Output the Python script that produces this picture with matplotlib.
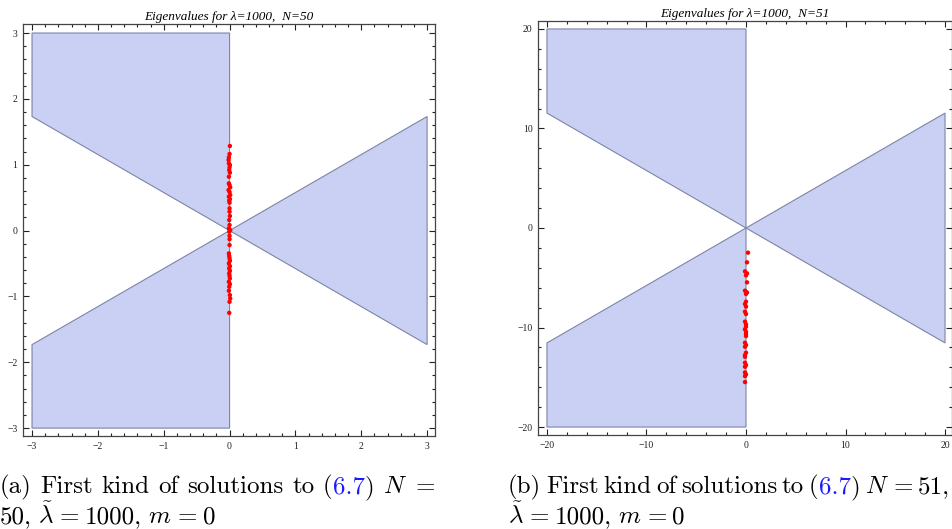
import numpy as np
import matplotlib
matplotlib.use("Agg")
import matplotlib.pyplot as plt
from matplotlib.patches import Polygon
from matplotlib.ticker import MultipleLocator

plt.rcParams['mathtext.fontset'] = 'cm'

# ---- data ----
# panel (a): N=50, region scale 3
scale_a = 3.0
eig_a_im = [1.284, 1.163, 1.112, 1.072, 1.021, 0.995, 0.960, 0.919, 0.879, 0.818,
            0.717, 0.691, 0.656, 0.615, 0.585, 0.540, 0.515, 0.479, 0.454, 0.423,
            0.337, 0.286, 0.221, 0.160, 0.084, 0.033, 0.008, -0.017, -0.08, -0.13,
            -0.220, -0.347, -0.388, -0.423, -0.459, -0.499, -0.540, -0.575, -0.611,
            -0.651, -0.686, -0.727, -0.778, -0.813, -0.854, -0.914, -0.980, -1.031,
            -1.082, -1.25]
eig_a_re = [0.005, 0.0, -0.01, -0.015, -0.01, 0.005, 0.0, -0.005, 0.005, -0.01,
            -0.01, 0.0, 0.01, -0.015, 0.0, 0.01, -0.01, 0.005, -0.005, 0.0,
            0.0, 0.0, 0.005, -0.005, 0.0, -0.01, 0.01, -0.005, 0.0, 0.0,
            0.0, -0.01, -0.005, 0.0, 0.005, -0.01, 0.005, -0.005, 0.005,
            -0.005, 0.0, 0.005, -0.01, 0.005, -0.005, -0.01, 0.005, 0.01,
            0.0, -0.005]

# panel (b): N=51, region scale 20
scale_b = 20.0
eig_b_im = [-2.48, -3.45, -4.36, -4.56, -4.76, -5.46, -6.30, -6.47, -6.63, -7.40,
            -7.64, -7.90, -8.41, -8.64, -9.41, -9.68, -9.92, -10.18, -10.42, -10.65,
            -10.86, -11.53, -11.76, -11.93, -12.53, -12.77, -12.94, -13.54, -13.78,
            -13.94, -14.51, -14.71, -14.88, -15.48]
eig_b_re = [0.2, 0.1, -0.1, 0.1, 0.0, 0.1, -0.1, 0.1, 0.0, 0.0,
            -0.1, 0.0, -0.1, 0.0, -0.1, 0.0, 0.0, -0.1, 0.0, 0.0,
            0.0, -0.1, 0.0, -0.1, 0.0, -0.1, -0.1, -0.1, 0.0, -0.1,
            -0.1, 0.0, -0.1, -0.1]

titles = ["Eigenvalues for \u03bb=1000,  N=50", "Eigenvalues for \u03bb=1000,  N=51"]
xticks_a = [-3, -2, -1, 0, 1, 2, 3]
xticks_b = [-20, -10, 0, 10, 20]

FILL = '#c9d0f3'
EDGE = '#7d84a6'
BLUE = '#1a1aff'

fig = plt.figure(figsize=(9.52, 5.29), dpi=100)
ax1 = fig.add_axes([23/952, 1-436/529, 412/952, 412/529])
ax2 = fig.add_axes([538/952, 1-435/529, 414/952, 414/529])

tan30 = np.tan(np.pi/6)

def draw_panel(ax, s, re, im, title, ticks, minor, xlim, ylim):
    h = s * tan30
    polys = [
        [(-s, s), (0, s), (0, 0), (-s, h)],
        [(-s, -s), (0, -s), (0, 0), (-s, -h)],
        [(0, 0), (s, h), (s, -h)],
    ]
    for p in polys:
        ax.add_patch(Polygon(p, closed=True, facecolor=FILL, edgecolor=EDGE, linewidth=0.8, zorder=1))
    ax.scatter(re, im, s=10, color='red', edgecolors='none', zorder=3)
    ax.set_xlim(*xlim)
    ax.set_ylim(*ylim)
    ax.set_xticks(ticks)
    ax.set_yticks(ticks)
    lab = [("\u2212" + str(abs(t))) if t < 0 else str(t) for t in ticks]
    ax.set_xticklabels(lab)
    ax.set_yticklabels(lab)
    ax.xaxis.set_minor_locator(MultipleLocator(minor))
    ax.yaxis.set_minor_locator(MultipleLocator(minor))
    ax.tick_params(which='both', direction='in', top=True, right=True, color='#222222', width=0.8)
    ax.tick_params(which='major', length=4, labelsize=7, pad=4, labelcolor='#222222')
    ax.tick_params(which='minor', length=2.2)
    for lbl in ax.get_xticklabels() + ax.get_yticklabels():
        lbl.set_fontfamily('Liberation Serif')
    for sp in ax.spines.values():
        sp.set_color('#444444')
        sp.set_linewidth(0.9)
    ax.set_title(title, fontsize=9.5, fontfamily='Liberation Serif', fontstyle='italic', pad=3)

draw_panel(ax1, scale_a, eig_a_re, eig_a_im, titles[0], xticks_a, 0.2, (-3.137, 3.12), (-3.12, 3.137))
draw_panel(ax2, scale_b, eig_b_re, eig_b_im, titles[1], xticks_b, 2, (-20.9, 20.7), (-20.8, 20.8))

# ---- captions ----
renderer = fig.canvas.get_renderer()
CAPFS = 18

def seg_width(s):
    t = fig.text(0, 0, s, fontsize=CAPFS, fontfamily='cmr10')
    w = t.get_window_extent(renderer).width
    t.remove()
    return w

def caption_line(x0, x1, y_px, words):
    # words: list of words, each a list of (text, colour) segments; justified between x0 and x1
    widths = [[seg_width(s) for s, c in w] for w in words]
    total = sum(sum(ws) for ws in widths)
    gap = (x1 - x0 - total) / (len(words) - 1)
    x = x0
    for w, ws in zip(words, widths):
        for (s, c), sw in zip(w, ws):
            fig.text(x / 952, 1 - y_px / 529, s, fontsize=CAPFS, fontfamily='cmr10', color=c,
                     ha='left', va='baseline')
            x += sw
        x += gap

K = 'black'
caption_line(0, 435, 493, [[("(a)", K)], [("First", K)], [("kind", K)], [("of", K)], [("solutions", K)],
                           [("to", K)], [("(", K), ("6.7", BLUE), (")", K)], [(r"$N$", K)], [("=", K)]])
caption_line(0, 215, 523, [[("50,", K)], [(r"$\tilde{\lambda}$", K)], [("=", K)], [("1000,", K)],
                           [(r"$m$", K)], [("=", K)], [("0", K)]])
caption_line(508, 950, 493, [[("(b)", K)], [("First", K)], [("kind", K)], [("of", K)], [("solutions", K)],
                             [("to", K)], [("(", K), ("6.7", BLUE), (")", K)], [(r"$N$", K)], [("=", K)],
                             [("51,", K)]])
caption_line(508, 685, 523, [[(r"$\tilde{\lambda}$", K)], [("=", K)], [("1000,", K)],
                             [(r"$m$", K)], [("=", K)], [("0", K)]])

fig.savefig("out.png", dpi=100)
